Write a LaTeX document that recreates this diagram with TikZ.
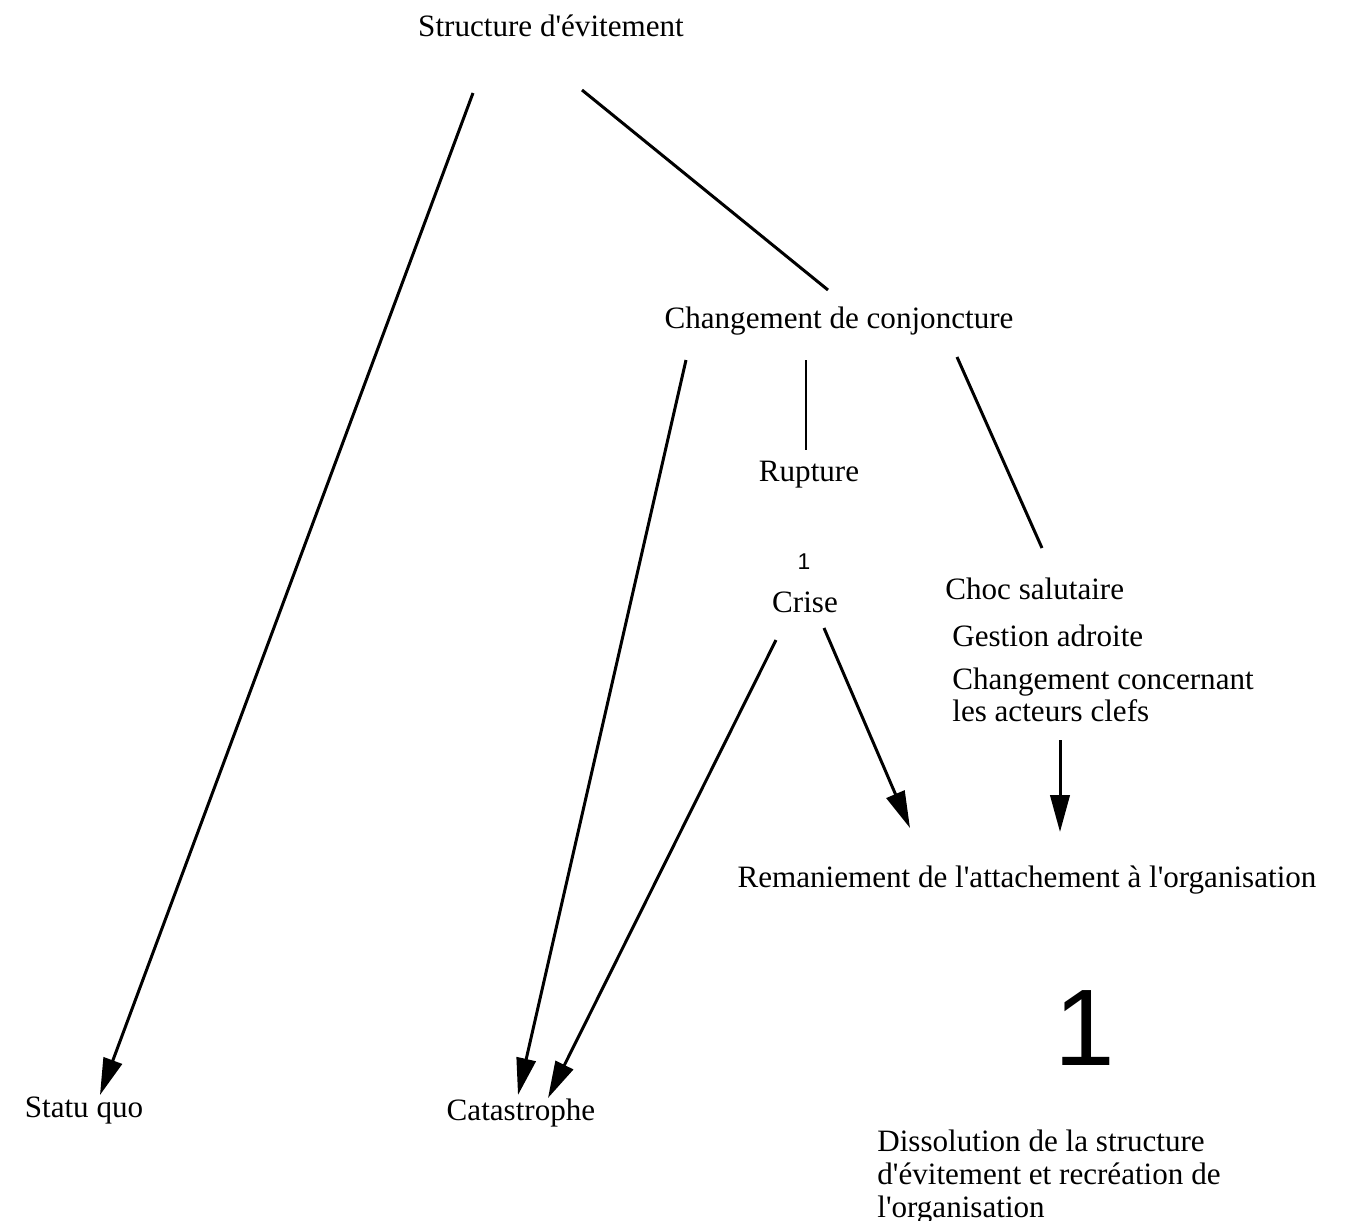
\documentclass[tikz,border=0pt]{standalone}
\usepackage{fontspec}
\setmainfont{Liberation Serif}
\newfontfamily\numfont{Liberation Sans}
\usepackage{tikz}
\usetikzlibrary{arrows.meta,positioning,calc}
\newcommand{\apo}{\textquotesingle}

\begin{document}
\begin{tikzpicture}[
        x=0.02cm, y=-0.02cm,
        label/.style={inner sep=0pt, font=\fontsize{17.7}{18.6}\selectfont},
        leftlabel/.style={label, anchor=west, align=left},
        link/.style={line width=1.7pt},
        thinlink/.style={line width=0.8pt},
        arrow/.style={-{Triangle[length=21pt, width=11pt]}, line width=1.7pt}
      ]
        \useasboundingbox (0,0) rectangle (1357,1221);

        % Main nodes
        \node[label] (struct) at (551,26) {Structure d\apo évitement};
        \node[label] (conj) at (839,321) {Changement de conjoncture};
        \node[label] (rupt) at (809,475) {Rupture};
        \node[inner sep=0pt, font=\numfont\fontsize{13}{15}\selectfont] (crisenum) at (804,562) {1};
        \node[label] (crise) at (805,602) {Crise};
        \node[leftlabel] (choc) at (945,589) {Choc salutaire};
        \node[leftlabel] (gest) at (952,636) {Gestion adroite};
        \node[leftlabel] (chgt) at (952,695) {Changement concernant\\les acteurs clefs};
        \node[label] (rem) at (1027,880) {Remaniement de l\apo attachement à l\apo organisation};
        \node[inner sep=0pt, font=\numfont\fontsize{62}{62}\selectfont] (bignum) at (1085,1028) {1};

        % Outcomes
        \node[label] (statu) at (84,1111) {Statu quo};
        \node[label] (cata) at (521,1113) {Catastrophe};
        \node[leftlabel] (diss) at (877,1177) {Dissolution de la structure\\d\apo évitement et recréation de\\l\apo organisation};

        % Connectors
        \draw[arrow] ([shift={(-78,67)}]struct.center) -- ([shift={(16,-16)}]statu.center);
        \draw[link] ([shift={(31,64)}]struct.center) -- ([shift={(-11,-31)}]conj.center);
        \draw[arrow] ([shift={(-153,39)}]conj.center) -- ([shift={(-3,-18)}]cata.center);
        \draw[thinlink] ([shift={(-33,39)}]conj.center) -- ([shift={(-3,-25)}]rupt.center);
        \draw[link] ([shift={(118,36)}]conj.center) -- ([shift={(97,-41)}]choc.west);
        \draw[arrow] ([shift={(-29,38)}]crise.center) -- ([shift={(27,-15)}]cata.center);
        \draw[arrow] ([shift={(19,26)}]crise.center) -- ([shift={(-117,-52)}]rem.center);
        \draw[arrow] ([shift={(108,45)}]chgt.west) -- ([shift={(33,-48)}]rem.center);

      \end{tikzpicture}
\end{document}
